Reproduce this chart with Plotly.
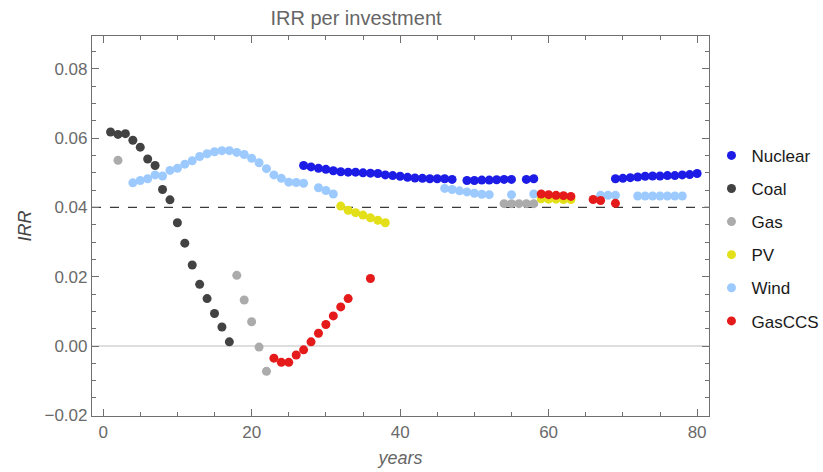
import plotly.graph_objects as go

# IRR per investment, by year of commissioning
nuclear_years = [27, 28, 29, 30, 31, 32, 33, 34, 35, 36, 37, 38, 39, 40, 41, 42, 43, 44,
                 45, 46, 47, 49, 50, 51, 52, 53, 54, 55, 57, 58,
                 69, 70, 71, 72, 73, 74, 75, 76, 77, 78, 79, 80]
nuclear_irr = [0.0521, 0.0517, 0.0513, 0.0510, 0.0506, 0.0503, 0.0502, 0.0502, 0.0500,
               0.0499, 0.0498, 0.0494, 0.0492, 0.0490, 0.0487, 0.0485, 0.0484, 0.0483,
               0.0483, 0.0483, 0.0481, 0.0478, 0.0478, 0.0479, 0.0479, 0.0480, 0.0481,
               0.0481, 0.0481, 0.0483,
               0.0483, 0.0484, 0.0486, 0.0488, 0.0490, 0.0491, 0.0491, 0.0492, 0.0492,
               0.0494, 0.0495, 0.0498]

coal_years = [1, 2, 3, 4, 5, 6, 7, 8, 9, 10, 11, 12, 13, 14, 15, 16, 17]
coal_irr = [0.0618, 0.0611, 0.0613, 0.0594, 0.0574, 0.0540, 0.0521, 0.0452, 0.0422,
            0.0356, 0.0297, 0.0234, 0.0178, 0.0137, 0.0094, 0.0055, 0.0012]

gas_years = [2, 18, 19, 20, 21, 22, 54, 55, 56, 57, 58]
gas_irr = [0.0536, 0.0204, 0.0133, 0.0070, -0.0003, -0.0073,
           0.0411, 0.0411, 0.0411, 0.0411, 0.0411]

pv_years = [32, 33, 34, 35, 36, 37, 38, 59, 60, 61, 62, 63]
pv_irr = [0.0404, 0.0392, 0.0385, 0.0378, 0.0370, 0.0363, 0.0356,
          0.0425, 0.0424, 0.0424, 0.0423, 0.0423]

wind_years = [4, 5, 6, 7, 8, 9, 10, 11, 12, 13, 14, 15, 16, 17, 18, 19, 20, 21, 22, 23,
              24, 25, 26, 27, 29, 30, 31, 46, 47, 48, 49, 50, 51, 52, 55, 58,
              67, 68, 69, 72, 73, 74, 75, 76, 77, 78]
wind_irr = [0.0471, 0.0478, 0.0483, 0.0494, 0.0491, 0.0507, 0.0513, 0.0525, 0.0535,
            0.0547, 0.0555, 0.0561, 0.0564, 0.0564, 0.0559, 0.0553, 0.0542, 0.0529,
            0.0512, 0.0494, 0.0484, 0.0473, 0.0472, 0.0470, 0.0457, 0.0449, 0.0439,
            0.0455, 0.0452, 0.0448, 0.0445, 0.0441, 0.0438, 0.0437, 0.0437, 0.0439,
            0.0435, 0.0435, 0.0435, 0.0433, 0.0433, 0.0433, 0.0433, 0.0433, 0.0433,
            0.0433]

gasccs_years = [23, 24, 25, 26, 27, 28, 29, 30, 31, 32, 33, 36,
                59, 60, 61, 62, 63, 66, 67, 69]
gasccs_irr = [-0.0035, -0.0047, -0.0047, -0.0026, -0.0011, 0.0012, 0.0037, 0.0062,
              0.0087, 0.0113, 0.0137, 0.0195,
              0.0439, 0.0437, 0.0435, 0.0434, 0.0432, 0.0423, 0.0420, 0.0412]

hurdle_rate = 0.04

series = [
    ("Nuclear", nuclear_years, nuclear_irr, "#1c1ce6"),
    ("Coal", coal_years, coal_irr, "#424242"),
    ("Gas", gas_years, gas_irr, "#ababab"),
    ("PV", pv_years, pv_irr, "#e3e019"),
    ("Wind", wind_years, wind_irr, "#9ccaff"),
    ("GasCCS", gasccs_years, gasccs_irr, "#e51a1a"),
]

FONT = "Liberation Sans, Arial, sans-serif"
FRAME = "#707070"
TICKTXT = "#6a6a6a"

fig = go.Figure()
for name, xs, ys, color in series:
    fig.add_trace(go.Scatter(
        x=xs, y=ys, mode="markers", name=name, legendgroup=name,
        marker=dict(size=9, color=color, line=dict(width=0)),
    ))

# dashed reference line at the hurdle rate
fig.add_shape(type="line", xref="paper", x0=0, x1=1, yref="y",
              y0=hurdle_rate, y1=hurdle_rate,
              line=dict(color="#3a3a3a", width=1.2, dash="dash"), layer="below")

fig.update_layout(
    width=823, height=472,
    margin=dict(l=92, r=114, t=36, b=56, autoexpand=False),
    paper_bgcolor="white", plot_bgcolor="white",
    font=dict(family=FONT, size=17, color=TICKTXT),
    title=dict(text="IRR per investment", x=(356 - 92) / 617, xref="paper",
               xanchor="center", y=1 - 18 / 472, yref="container", yanchor="middle",
               font=dict(family=FONT, size=20, color="#666666")),
    showlegend=True,
    legend=dict(x=1.004, xanchor="left", y=0.732, yanchor="top",
                font=dict(family=FONT, size=17, color="#1a1a1a"),
                tracegroupgap=8, bgcolor="rgba(0,0,0,0)"),
    xaxis=dict(
        range=[-1.5, 81.6], showgrid=False, zeroline=False,
        showline=True, linecolor=FRAME, linewidth=1.2, mirror="ticks",
        ticks="inside", ticklen=7, tickcolor=FRAME, tickwidth=1,
        tick0=0, dtick=20, tickfont=dict(size=17, color=TICKTXT),
        minor=dict(ticks="inside", ticklen=4, dtick=5, tick0=0, tickcolor=FRAME),
        title=dict(text="<i>years</i>", font=dict(size=18, color="#666666"), standoff=10),
    ),
    yaxis=dict(
        range=[-0.0202, 0.0895], showgrid=False,
        zeroline=True, zerolinecolor="#dedede", zerolinewidth=2,
        showline=True, linecolor=FRAME, linewidth=1.2, mirror="ticks",
        ticks="inside", ticklen=7, tickcolor=FRAME, tickwidth=1,
        tick0=0, dtick=0.02, tickformat=".2f", tickfont=dict(size=17, color=TICKTXT),
        minor=dict(ticks="inside", ticklen=4, dtick=0.005, tick0=0, tickcolor=FRAME),
        title=dict(text="<i>IRR</i>", font=dict(size=18, color="#444444"), standoff=8),
    ),
)

fig.write_html("out.html")
